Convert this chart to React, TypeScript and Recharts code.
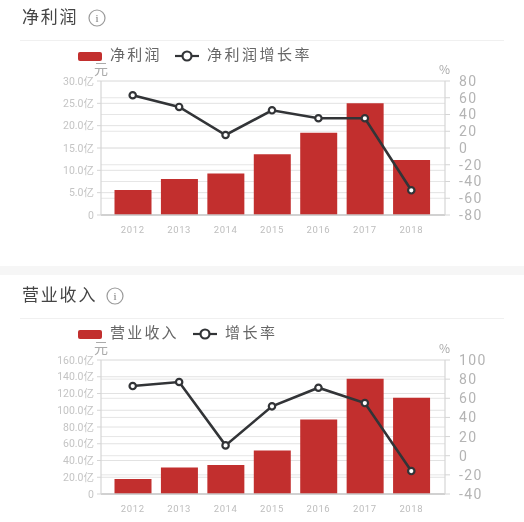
import { ComposedChart, Bar, Line, XAxis, YAxis, CartesianGrid } from 'recharts'

const years = ['2012', '2013', '2014', '2015', '2016', '2017', '2018']

const profitValues = [5.6, 8.05, 9.3, 13.6, 18.4, 25, 12.3]
const profitGrowth = [63, 49, 15.5, 45, 35.5, 35.5, -50.5]
const profitTicks = [0, 5, 10, 15, 20, 25, 30]
const profitGrowthTicks = [-80, -60, -40, -20, 0, 20, 40, 60, 80]

const revenueValues = [18, 31.5, 34.6, 52, 89, 137.7, 115]
const revenueGrowth = [72.8, 77, 10.8, 51.6, 71, 55, -16]
const revenueTicks = [0, 20, 40, 60, 80, 100, 120, 140, 160]
const revenueGrowthTicks = [-40, -20, 0, 20, 40, 60, 80, 100]

const FONT = '"Noto Sans CJK SC", "Noto Sans", sans-serif'
const LABEL_FONT = 'Roboto, "Noto Sans CJK SC", sans-serif'
const RED = '#c22f2e'
const DARK = '#323437'

const yiLabel = (v: number) => (v === 0 ? '0' : `${v.toFixed(1)}亿`)

interface PanelProps {
  top: number
  height: number
  title: string
  barName: string
  lineName: string
  values: number[]
  growth: number[]
  leftTicks: number[]
  rightTicks: number[]
  plotTop: number
  infoX: number
  titleY: number
  dividerY: number
  legendY: number
  lineIconX: number
  lineTextX: number
}

function InfoIcon({ x, y }: { x: number; y: number }) {
  return (
    <svg width={20} height={20} style={{ position: 'absolute', left: x - 10, top: y - 10 }}>
      <circle cx={10} cy={10} r={8} fill="none" stroke="#9a9a9a" strokeWidth={1.2} />
      <text x={10} y={14} textAnchor="middle" fontSize={11} fontFamily="Liberation Serif, serif" fill="#777">
        i
      </text>
    </svg>
  )
}

function Panel(p: PanelProps) {
  const data = years.map((year, i) => ({ year, value: p.values[i], growth: p.growth[i] }))
  const textStyle = {
    position: 'absolute' as const,
    fontFamily: FONT,
    whiteSpace: 'nowrap' as const,
    lineHeight: '20px',
  }

  return (
    <div style={{ position: 'absolute', left: 0, top: p.top, width: 524, height: p.height }}>
      <div style={{ ...textStyle, left: 22, top: p.titleY - 12, fontSize: 17, letterSpacing: 1.8, color: '#444' }}>
        {p.title}
      </div>
      <InfoIcon x={p.infoX} y={p.titleY} />
      <div style={{ position: 'absolute', left: 20, top: p.dividerY, width: 484, height: 1, background: '#f0f0f0' }} />

      <div style={{ position: 'absolute', left: 78, top: p.legendY - 4.5, width: 24, height: 9, borderRadius: 2, background: RED }} />
      <div style={{ ...textStyle, left: 110, top: p.legendY - 12.5, fontSize: 15, letterSpacing: 2.2, color: '#666' }}>
        {p.barName}
      </div>
      <svg width={26} height={14} style={{ position: 'absolute', left: p.lineIconX - 13, top: p.legendY - 7 }}>
        <line x1={1} y1={7} x2={25} y2={7} stroke={DARK} strokeWidth={2.2} />
        <circle cx={13} cy={7} r={4.5} fill="#fff" stroke={DARK} strokeWidth={2.2} />
      </svg>
      <div style={{ ...textStyle, left: p.lineTextX, top: p.legendY - 12.5, fontSize: 15, letterSpacing: 2.5, color: '#666' }}>
        {p.lineName}
      </div>
      <div style={{ ...textStyle, left: 94, top: p.plotTop - 23, fontSize: 14, color: '#aaa' }}>元</div>
      <div style={{ ...textStyle, left: 439, top: p.plotTop - 22, fontSize: 12, color: '#aaa' }}>%</div>

      <ComposedChart
        width={524}
        height={p.height}
        data={data}
        margin={{ top: p.plotTop, right: 0, bottom: p.height - p.plotTop - 134 - 30, left: 0 }}
        style={{ position: 'absolute', left: 0, top: 0 }}
      >
        <CartesianGrid yAxisId="left" vertical={false} stroke="#e2e2e2" />
        <CartesianGrid yAxisId="right" vertical={false} stroke="#e6e6e6" />
        <XAxis
          dataKey="year"
          height={30}
          padding={{ left: 8.5, right: 10.5 }}
          tickLine={false}
          axisLine={{ stroke: '#c8c8c8', strokeWidth: 1.5 }}
          tick={{ fontSize: 9.5, fill: '#bdbdbd', fontFamily: LABEL_FONT, letterSpacing: 0.6 }}
          tickMargin={5}
          interval={0}
        />
        <YAxis
          yAxisId="left"
          width={101}
          domain={[p.leftTicks[0], p.leftTicks[p.leftTicks.length - 1]]}
          ticks={p.leftTicks}
          interval={0}
          tickFormatter={yiLabel}
          tickLine={{ stroke: '#d5d5d5' }}
          tickSize={4}
          tickMargin={3}
          axisLine={{ stroke: '#d5d5d5', strokeWidth: 1.2 }}
          tick={{ fontSize: 10.5, fill: '#c4c4c4', fontFamily: LABEL_FONT }}
        />
        <YAxis
          yAxisId="right"
          orientation="right"
          width={79}
          domain={[p.rightTicks[0], p.rightTicks[p.rightTicks.length - 1]]}
          ticks={p.rightTicks}
          interval={0}
          tickLine={{ stroke: '#d5d5d5' }}
          tickSize={5}
          tickMargin={9}
          axisLine={{ stroke: '#d5d5d5', strokeWidth: 1.2 }}
          tick={{ fontSize: 14, fill: '#b4b4b4', fontFamily: LABEL_FONT, letterSpacing: 1.4 }}
        />
        <Bar yAxisId="left" dataKey="value" fill={RED} barSize={37} isAnimationActive={false} />
        <Line
          yAxisId="right"
          dataKey="growth"
          type="linear"
          stroke={DARK}
          strokeWidth={2.6}
          dot={{ r: 3.2, fill: '#fff', stroke: DARK, strokeWidth: 2.2 }}
          isAnimationActive={false}
        />
      </ComposedChart>
    </div>
  )
}

export default function App() {
  return (
    <div style={{ position: 'absolute', left: 0, top: 0, width: 524, height: 522, background: '#fff', overflow: 'hidden', filter: 'blur(0.4px)' }}>
      <Panel
        top={0}
        height={266}
        title="净利润"
        barName="净利润"
        lineName="净利润增长率"
        values={profitValues}
        growth={profitGrowth}
        leftTicks={profitTicks}
        rightTicks={profitGrowthTicks}
        plotTop={81}
        infoX={96.5}
        titleY={18}
        dividerY={40}
        legendY={56}
        lineIconX={187}
        lineTextX={207}
      />
      <div style={{ position: 'absolute', left: 0, top: 266, width: 524, height: 9, background: '#f6f6f6' }} />
      <Panel
        top={275}
        height={247}
        title="营业收入"
        barName="营业收入"
        lineName="增长率"
        values={revenueValues}
        growth={revenueGrowth}
        leftTicks={revenueTicks}
        rightTicks={revenueGrowthTicks}
        plotTop={85}
        infoX={115}
        titleY={20.5}
        dividerY={43}
        legendY={59}
        lineIconX={204.5}
        lineTextX={225}
      />
    </div>
  )
}
